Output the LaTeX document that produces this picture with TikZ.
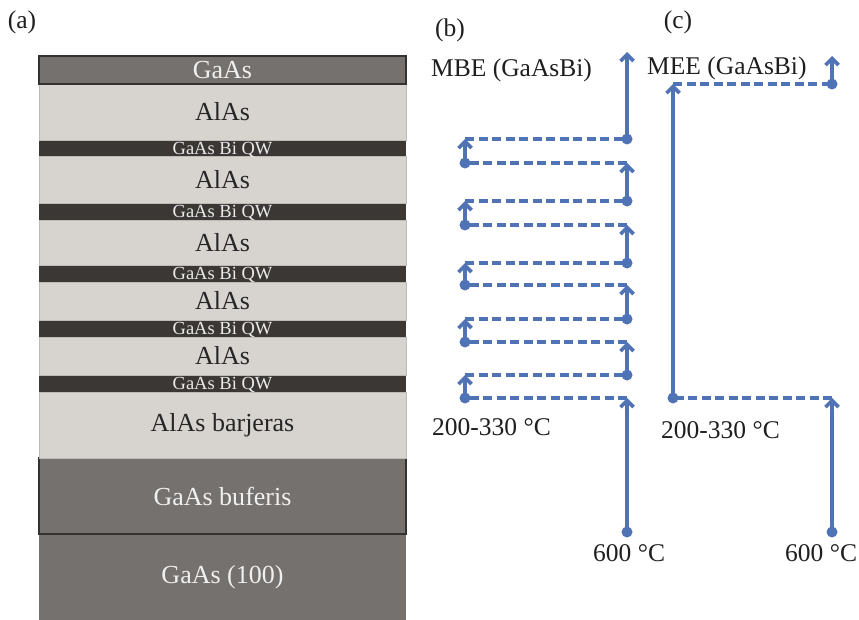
\documentclass[tikz,border=0pt]{standalone}
\usepackage{fontspec}
\setmainfont{Liberation Serif}
\usetikzlibrary{arrows.meta}
\definecolor{alas}{RGB}{215,211,206}
\definecolor{alasedge}{RGB}{190,186,182}
\definecolor{gaas}{RGB}{117,113,110}
\definecolor{qw}{RGB}{58,55,52}
\definecolor{edge}{RGB}{52,50,48}
\definecolor{flowblue}{RGB}{79,115,180}
\begin{document}
\begin{tikzpicture}[x=1pt,y=-1pt,
  layer/.style={rectangle, inner sep=0pt, outer sep=0pt, minimum width=367pt, anchor=north west},
  alaslayer/.style={layer, fill=alas, draw=alasedge, line width=0.8pt, text=black!85, font=\fontsize{26}{28}\selectfont},
  qwlayer/.style={layer, fill=qw, text=white!92!black, text depth=0pt, font=\fontsize{18.5}{19}\selectfont},
  gaaslayer/.style={layer, fill=gaas, text=white!94!black, font=\fontsize{26}{28}\selectfont},
  lbl/.style={inner sep=0pt, anchor=west, text=black!88, font=\fontsize{25.5}{28}\selectfont},
  flow/.style={draw=flowblue, line width=3.6pt, -{Straight Barb[length=6.5pt,width=13pt]}},
  jump/.style={draw=flowblue, line width=3.2pt, dash pattern=on 9pt off 4.5pt},
  dot/.style={circle, fill=flowblue, inner sep=0pt, minimum size=11pt}]
\useasboundingbox (0,0) rectangle (859,620);
\fill[white] (0,0) rectangle (859,620);

% ---------- (a) layer stack ----------
\node[lbl, anchor=center] (alabel) at (22,22) {(a)};
\node[gaaslayer, minimum height=86pt] (substrate) at (39,534) {GaAs (100)};
\node[gaaslayer, draw=edge, line width=2pt, minimum height=76pt] (buffer) at (39,458) {GaAs buferis};
\node[alaslayer, minimum height=66pt] (barrier) at (39,392) {AlAs barjeras};
\node[qwlayer, minimum height=17pt] (qw5) at (39,375) {GaAs Bi QW};
\node[alaslayer, minimum height=38pt] (alas5) at (39,337) {AlAs};
\node[qwlayer, minimum height=17pt] (qw4) at (39,320) {GaAs Bi QW};
\node[alaslayer, minimum height=38pt] (alas4) at (39,282) {AlAs};
\node[qwlayer, minimum height=17pt] (qw3) at (39,265) {GaAs Bi QW};
\node[alaslayer, minimum height=45pt] (alas3) at (39,220) {AlAs};
\node[qwlayer, minimum height=17pt] (qw2) at (39,203) {GaAs Bi QW};
\node[alaslayer, minimum height=47pt] (alas2) at (39,156) {AlAs};
\node[qwlayer, minimum height=16pt] (qw1) at (39,140) {GaAs Bi QW};
\node[alaslayer, minimum height=56pt] (alas1) at (39,84) {AlAs};
\node[gaaslayer, draw=edge, line width=2pt, minimum height=28pt] (cap) at (39,56) {GaAs};

% ---------- (b) MBE temperature sequence ----------
\node[lbl, anchor=center] (blabel) at (450,30) {(b)};
\node[lbl] (mbe) at (431,70) {MBE (GaAsBi)};
\node[lbl] (blow) at (432,427) {200-330 °C};
\node[lbl] (bhigh) at (593,553) {600 °C};

\coordinate (bstart) at (627,532);
\coordinate (btop) at (627,52);
\foreach \i/\u/\l in {1/139/163,2/201/225,3/263/285,4/319/342,5/375/398}{
  \coordinate (bRu\i) at (627,\u);
  \coordinate (bRl\i) at (627,\l);
  \coordinate (bLu\i) at (465,\u);
  \coordinate (bLl\i) at (465,\l);
}
\draw[flow] (bstart) -- (bRl5);
\foreach \i in {1,...,5}{
  \draw[jump] (bRl\i) -- (bLl\i);
  \draw[flow] (bLl\i) -- (bLu\i);
  \draw[jump] (bLu\i) -- (bRu\i);
}
\foreach \i/\j in {5/4,4/3,3/2,2/1}{
  \draw[flow] (bRu\i) -- (bRl\j);
}
\draw[flow] (bRu1) -- (btop);
\node[dot] (bdot0) at (bstart) {};
\foreach \i in {1,...,5}{
  \node[dot] (bdotR\i) at (bRu\i) {};
  \node[dot] (bdotL\i) at (bLl\i) {};
}

% ---------- (c) MEE temperature sequence ----------
\node[lbl, anchor=center] (clabel) at (678,22) {(c)};
\node[lbl] (mee) at (647,68) {MEE (GaAsBi)};
\node[lbl] (clow) at (661,430) {200-330 °C};
\node[lbl] (chigh) at (785,553) {600 °C};

\coordinate (cstart) at (832,532);
\coordinate (cRl) at (832,398);
\coordinate (cLl) at (673,398);
\coordinate (cLu) at (673,84);
\coordinate (cRu) at (832,84);
\coordinate (ctop) at (832,56);
\draw[flow] (cstart) -- (cRl);
\draw[jump] (cRl) -- (cLl);
\draw[flow] (cLl) -- (cLu);
\draw[jump] (cLu) -- (cRu);
\draw[flow] (cRu) -- (ctop);
\node[dot] (cdot0) at (cstart) {};
\node[dot] (cdot1) at (cLl) {};
\node[dot] (cdot2) at (cRu) {};
\end{tikzpicture}
\end{document}
